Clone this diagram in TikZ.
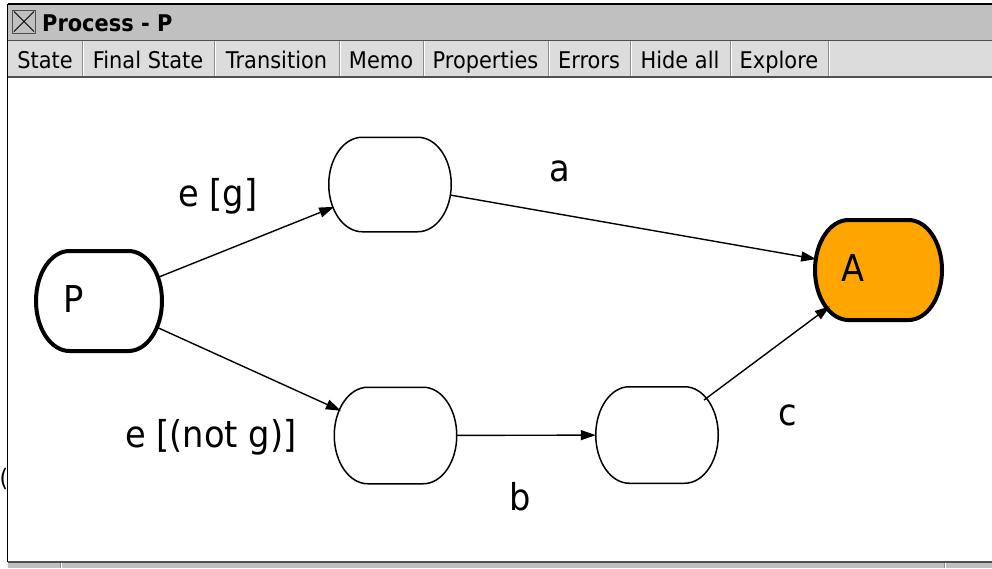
\documentclass[tikz,border=0pt]{standalone}
\usepackage{fontspec}
\setmainfont{DejaVu Sans}[FakeStretch=0.91]
\usetikzlibrary{arrows.meta,shapes.misc,calc}

\definecolor{titlegray}{HTML}{C0C0C0}
\definecolor{tabgray}{HTML}{DCDCDC}
\definecolor{framedark}{HTML}{505050}
\definecolor{sepgray}{HTML}{8C8C8C}
\definecolor{stateorange}{HTML}{FFA500}

\newcommand{\statefont}{\fontsize{37}{40}\selectfont}
\newcommand{\uifont}{\fontsize{23}{26}\selectfont}

% capsule outline: flat top and bottom, half-elliptic ends
\newcommand{\statecapsule}[2]{%
  \draw[#2] ($(#1.north -| #1.west)+(33.5,0)$) -- ($(#1.north -| #1.east)+(-33.5,0)$)
    .. controls ($(#1.north -| #1.east)+(-15,0)$) and ($(#1.east)!0.552!(#1.north -| #1.east)$) .. (#1.east)
    .. controls ($(#1.east)!0.552!(#1.south -| #1.east)$) and ($(#1.south -| #1.east)+(-15,0)$) .. ($(#1.south -| #1.east)+(-33.5,0)$)
    -- ($(#1.south -| #1.west)+(33.5,0)$)
    .. controls ($(#1.south -| #1.west)+(15,0)$) and ($(#1.west)!0.552!(#1.south -| #1.west)$) .. (#1.west)
    .. controls ($(#1.west)!0.552!(#1.north -| #1.west)$) and ($(#1.north -| #1.west)+(15,0)$) .. cycle;}

\pgfdeclarelayer{chrome}
\pgfdeclarelayer{outline}
\pgfsetlayers{chrome,outline,main}

\tikzset{
  stbox/.style={rounded rectangle, rounded rectangle arc length=150,
    minimum width=121, minimum height=94, inner sep=0, outer sep=0.75,
    font=\statefont},
  stthick/.style={outer sep=2},
  trans/.style={line width=1.4, -{Triangle[length=15pt,width=10pt]}},
  lbl/.style={anchor=base west, inner sep=0, font=\statefont},
  tab/.style={anchor=base, inner sep=0, font=\uifont},
}

\begin{document}
\begin{tikzpicture}[x=1pt,y=-1pt]
\useasboundingbox (0,0) rectangle (992,568);

\begin{pgfonlayer}{chrome}
  \fill[white] (0,0) rectangle (992,568);
  % title bar
  \fill[titlegray] (8,4) rectangle (992,40);
  \draw[black, line width=1.5] (7.5,4) -- (992,4);
  % tool bar
  \fill[tabgray] (8,41) rectangle (992,76);
  \draw[framedark, line width=1.5] (8,40.5) -- (992,40.5);
  \draw[framedark, line width=2] (8,76.5) -- (992,76.5);
  \foreach \sx in {82,214,339,423,548,630,730,828}{
    \draw[sepgray, line width=1] (\sx,41) -- (\sx,76);
    \draw[white, line width=1] (\sx+1.2,41) -- (\sx+1.2,76);
  }
  % status bar
  \fill[titlegray] (8,562) rectangle (992,568);
  \draw[framedark, line width=2] (8,561.5) -- (992,561.5);
  \foreach \sx in {60,944}{
    \draw[sepgray, line width=1] (\sx,562.5) -- (\sx,568);
    \draw[white, line width=1] (\sx+1.2,562.5) -- (\sx+1.2,568);
  }
  % window frame, left edge
  \draw[black, line width=1.5] (7.5,4) -- (7.5,562);
\end{pgfonlayer}

% close box and title
\node[draw=framedark, fill=titlegray, line width=1, minimum size=23, inner sep=0] (closebox) at (24,21.5) {};
\draw[black, line width=0.8] ($(closebox.north west)+(2,2)$) -- ($(closebox.south east)+(-2,-2)$);
\draw[black, line width=0.8] ($(closebox.south west)+(2,-2)$) -- ($(closebox.north east)+(-2,2)$);
\node[anchor=base west, inner sep=0, font=\bfseries\uifont] (title) at (42,31) {Process - P};

% tool bar buttons
\node[tab] (tState) at (45,68) {State};
\node[tab] (tFinal) at (148,68) {Final State};
\node[tab] (tTrans) at (276.5,68) {Transition};
\node[tab] (tMemo) at (381,68) {Memo};
\node[tab] (tProp) at (485.5,68) {Properties};
\node[tab] (tErr) at (589,68) {Errors};
\node[tab] (tHide) at (680,68) {Hide all};
\node[tab] (tExpl) at (779,68) {Explore};

\node[anchor=base, inner sep=0, font=\fontsize{24}{26}\selectfont] (stray) at (4,486) {(};

% states
\node[stbox, stthick, minimum width=122, minimum height=96] (P) at (99,301)
  {\raisebox{3pt}{\makebox[72pt][l]{P}}};
\node[stbox, minimum height=93] (U) at (390,184.5) {};
\node[stbox, minimum height=95] (L1) at (395.5,435.5) {};
\node[stbox, minimum height=95] (L2) at (657,435) {};
\node[stbox, stthick, minimum width=123, minimum height=96] (A) at (878.5,270)
  {\raisebox{3pt}{\makebox[74pt][l]{A}}};

\begin{pgfonlayer}{outline}
  \statecapsule{P}{line width=4, fill=white}
  \statecapsule{U}{line width=1.5, fill=white}
  \statecapsule{L1}{line width=1.5, fill=white}
  \statecapsule{L2}{line width=1.5, fill=white}
  \statecapsule{A}{line width=4, fill=stateorange}
\end{pgfonlayer}

% transitions
\draw[trans] (P) -- (U);
\draw[trans] (P) -- (L1);
\draw[trans] (U) -- (A);
\draw[trans] (L1) -- (L2);
\draw[trans] (L2) -- (A);

% transition labels
\node[lbl] (lg) at (178,206) {e [g]};
\node[lbl] (la) at (549,181) {a};
\node[lbl] (lng) at (125,447) {e [(not g)]};
\node[lbl] (lb) at (509,510) {b};
\node[lbl] (lc) at (778,425) {c};
\end{tikzpicture}
\end{document}
